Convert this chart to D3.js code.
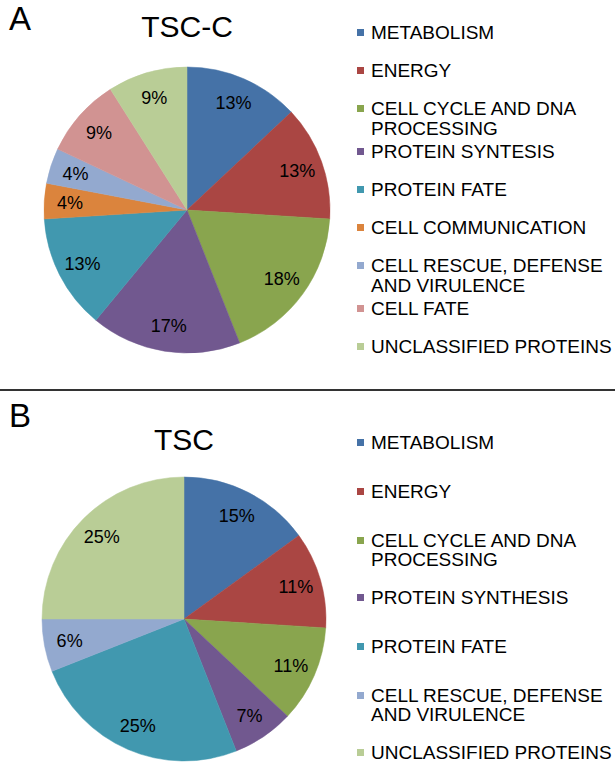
<!DOCTYPE html>
<html>
<head>
<meta charset="utf-8">
<script src="https://cdn.jsdelivr.net/npm/d3@7"></script>
<style>
  body { margin: 0; background: #fff; }
  text { font-family: "Liberation Sans", Arial, sans-serif; fill: #000; }
</style>
</head>
<body>
<svg></svg>
<script>
// data
const categoriesA = ["METABOLISM", "ENERGY", "CELL CYCLE AND DNA\nPROCESSING", "PROTEIN SYNTESIS",
  "PROTEIN FATE", "CELL COMMUNICATION", "CELL RESCUE, DEFENSE\nAND VIRULENCE", "CELL FATE",
  "UNCLASSIFIED PROTEINS"];
const valuesA = [13, 13, 18, 17, 13, 4, 4, 9, 9];

const categoriesB = ["METABOLISM", "ENERGY", "CELL CYCLE AND DNA\nPROCESSING", "PROTEIN SYNTHESIS",
  "PROTEIN FATE", "CELL RESCUE, DEFENSE\nAND VIRULENCE", "UNCLASSIFIED PROTEINS"];
const valuesB = [15, 11, 11, 7, 25, 6, 25];

const palette = ["#4572a7", "#aa4643", "#89a54e", "#71588f", "#4198af", "#db843d", "#93a9cf", "#d19392", "#b9cd96"];

let width = 615;
let height = 763;

const svg = d3.select("svg")
  .attr("width", width)
  .attr("height", height);

//divider
svg.append("line")
  .attr("x1", 0).attr("x2", width)
  .attr("y1", 390).attr("y2", 390)
  .attr("stroke", "#333")
  .attr("stroke-width", 2);

function drawPanel(opts) {
  const g = svg.append("g");

  g.append("text")
    .text(opts.letter)
    .attr("x", 9)
    .attr("y", opts.letterY)
    .style("font-size", "33px");

  g.append("text")
    .text(opts.title)
    .attr("x", opts.cx)
    .attr("y", opts.titleY)
    .attr("text-anchor", "middle")
    .style("font-size", "30px");

  const color = d3.scaleOrdinal()
    .domain(opts.categories)
    .range(opts.colors);

  const pie = d3.pie().sort(null).value((d) => d.value);
  const data = opts.categories.map((c, i) => ({ name: c, value: opts.values[i] }));
  const arcs = pie(data);

  const arc = d3.arc().innerRadius(0).outerRadius(opts.r);
  const labelArc = d3.arc().innerRadius(opts.r * 0.82).outerRadius(opts.r * 0.82);

  const pieG = g.append("g")
    .attr("transform", `translate(${opts.cx}, ${opts.cy})`);

  pieG.selectAll("path")
    .data(arcs)
    .enter()
    .append("path")
    .attr("d", arc)
    .attr("fill", (d) => color(d.data.name))
    .attr("stroke", (d) => color(d.data.name))
    .attr("stroke-width", 0.5);

  pieG.selectAll("text")
    .data(arcs)
    .enter()
    .append("text")
    .attr("transform", (d) => `translate(${labelArc.centroid(d)})`)
    .attr("text-anchor", "middle")
    .attr("dy", "0.35em")
    .style("font-size", "18px")
    .text((d) => d.data.value + "%");

  //legend
  let y = opts.legendY;
  opts.categories.forEach((c, i) => {
    const lines = c.split("\n");
    g.append("rect")
      .attr("x", 357)
      .attr("y", y - 3)
      .attr("width", 7)
      .attr("height", 7)
      .attr("fill", color(c));
    const t = g.append("text")
      .attr("x", 371)
      .attr("y", y + 7)
      .style("font-size", "19px");
    lines.forEach((l, j) => {
      t.append("tspan")
        .attr("x", 371)
        .attr("dy", j === 0 ? 0 : opts.lineH)
        .text(l);
    });
    y += opts.step + (lines.length - 1) * opts.extra;
  });
}

drawPanel({
  letter: "A", letterY: 30, title: "TSC-C", titleY: 37,
  cx: 187, cy: 210, r: 143,
  categories: categoriesA, values: valuesA, colors: palette,
  legendY: 32, step: 38, extra: 5, lineH: 20
});

drawPanel({
  letter: "B", letterY: 427, title: "TSC", titleY: 450,
  cx: 184, cy: 619, r: 142,
  categories: categoriesB, values: valuesB,
  colors: [palette[0], palette[1], palette[2], palette[3], palette[4], palette[6], palette[8]],
  legendY: 442, step: 49, extra: 8, lineH: 19
});
</script>
</body>
</html>
